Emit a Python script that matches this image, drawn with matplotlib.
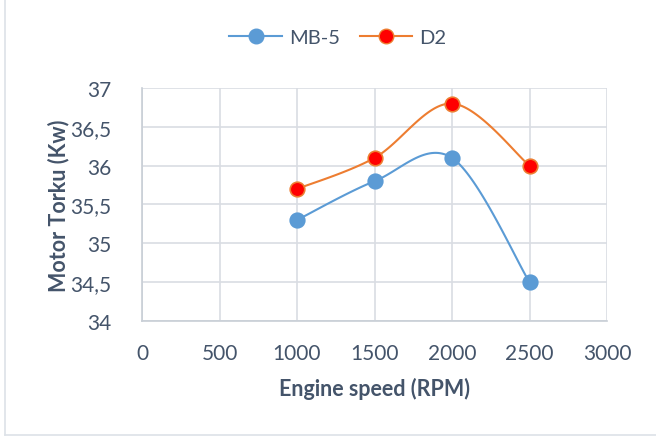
import matplotlib.pyplot as plt
import numpy as np
from matplotlib.lines import Line2D
from matplotlib.ticker import FuncFormatter

plt.rcParams["font.family"] = ["Lato", "DejaVu Sans"]

rpm = [1000, 1500, 2000, 2500]
mb5 = [35.3, 35.8, 36.1, 34.5]
d2 = [35.7, 36.1, 36.8, 36.0]

x_ticks = [0, 500, 1000, 1500, 2000, 2500, 3000]
y_ticks = [34, 34.5, 35, 35.5, 36, 36.5, 37]

TEXT = "#44546A"
GRID = "#D9DDE3"
BLUE = "#5B9BD5"
ORANGE = "#ED7D31"


def smooth(xs, ys, steps=40):
    # Catmull-Rom style smoothing, like a spreadsheet's "smoothed line"
    pts = np.column_stack([xs, ys]).astype(float)
    padded = np.vstack([pts[0], pts, pts[-1]])
    out = []
    for i in range(1, len(padded) - 2):
        p0, p1, p2, p3 = padded[i - 1], padded[i], padded[i + 1], padded[i + 2]
        c1 = p1 + (p2 - p0) / 6
        c2 = p2 - (p3 - p1) / 6
        t = np.linspace(0, 1, steps)[:, None]
        seg = ((1 - t) ** 3) * p1 + 3 * ((1 - t) ** 2) * t * c1 \
            + 3 * (1 - t) * t ** 2 * c2 + t ** 3 * p2
        out.append(seg if i == 1 else seg[1:])
    curve = np.vstack(out)
    return curve[:, 0], curve[:, 1]


fig = plt.figure(figsize=(6.56, 4.39), dpi=100)
ax = fig.add_axes([142 / 656, 1 - 322 / 439, 465 / 656, 233 / 439])

for ys, line_c, face_c in [(mb5, BLUE, BLUE), (d2, ORANGE, "red")]:
    sx, sy = smooth(rpm, ys)
    ax.plot(sx, sy, color=line_c, linewidth=1.5, zorder=3)
    ax.plot(rpm, ys, linestyle="none", marker="o", markersize=10.5,
            markerfacecolor=face_c, markeredgecolor=line_c,
            markeredgewidth=1.2, zorder=4)

ax.set_xlim(0, 3000)
ax.set_ylim(34, 37)
ax.set_xticks(x_ticks)
ax.set_yticks(y_ticks)
ax.yaxis.set_major_formatter(
    FuncFormatter(lambda v, _: f"{v:g}".replace(".", ",")))
ax.grid(True, color=GRID, linewidth=1.2)
ax.set_axisbelow(True)
for name, sp in ax.spines.items():
    sp.set_visible(name in ("left", "bottom"))
    sp.set_color("#C8CED6")
    sp.set_linewidth(1.2)
ax.tick_params(length=0, labelsize=15, colors=TEXT)
ax.tick_params(axis="x", pad=16)
ax.tick_params(axis="y", pad=22)

ax.set_xlabel("Engine speed (RPM)", fontsize=15.5, fontweight="bold",
              color=TEXT, labelpad=10)
ax.set_ylabel("Motor Torku (Kw)", fontsize=15.5, fontweight="bold",
              color=TEXT, labelpad=1)

handles = [
    Line2D([], [], color=BLUE, linewidth=1.5, marker="o", markersize=10.5,
           markerfacecolor=BLUE, markeredgecolor=BLUE),
    Line2D([], [], color=ORANGE, linewidth=1.5, marker="o", markersize=10.5,
           markerfacecolor="red", markeredgecolor=ORANGE),
]
fig.legend(handles, ["MB-5", "D2"], loc="center", bbox_to_anchor=(338 / 656, 1 - 38 / 439),
           ncol=2, frameon=False, fontsize=14.5, labelcolor=TEXT,
           handlelength=2.6, columnspacing=1.0, handletextpad=0.35)

# light frame around the chart
fig.add_artist(Line2D([5 / 656, 5 / 656], [3 / 439, 1], color="#DDE2E8",
                      linewidth=1.2, transform=fig.transFigure))
fig.add_artist(Line2D([5 / 656, 1], [3 / 439, 3 / 439], color="#DDE2E8",
                      linewidth=1.2, transform=fig.transFigure))

fig.savefig("out.png", dpi=100, facecolor="white")
